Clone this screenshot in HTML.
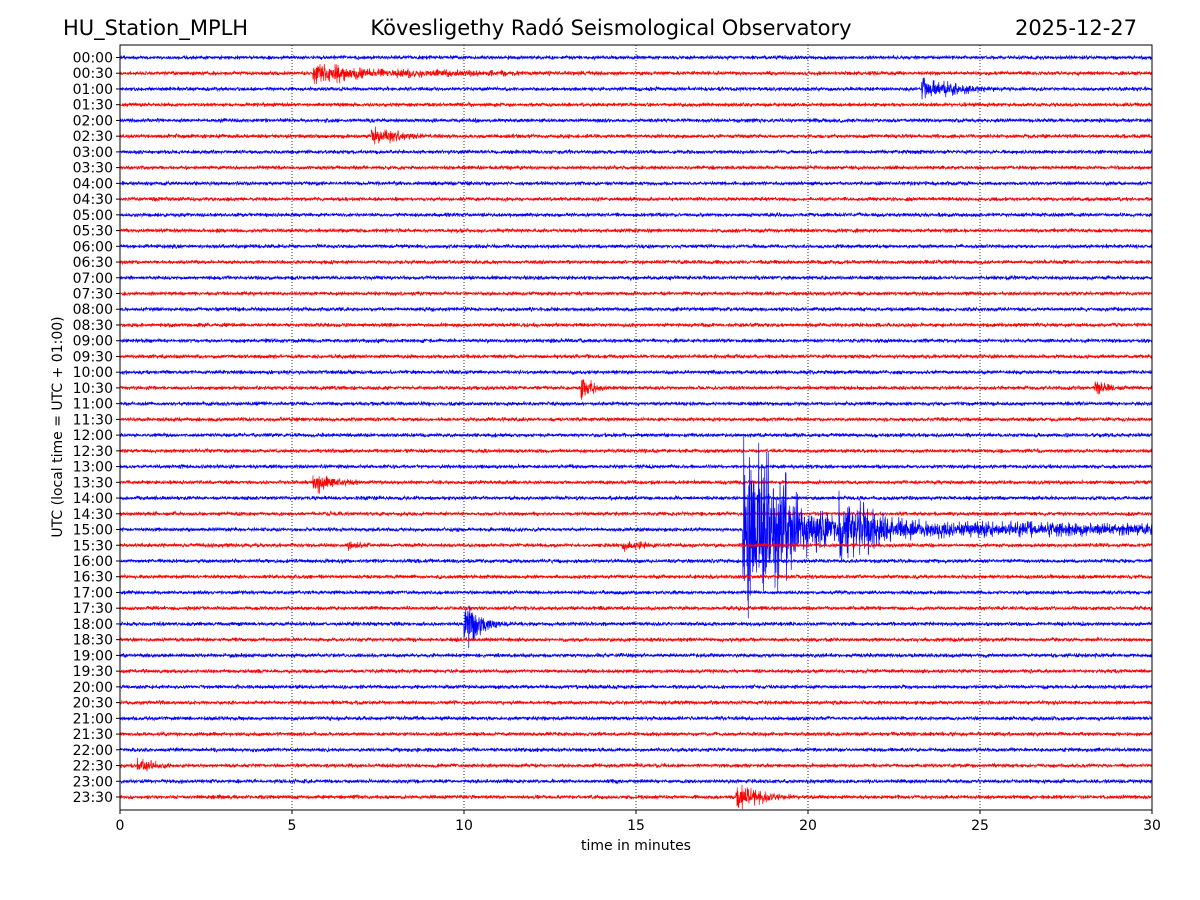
<!DOCTYPE html>
<html><head><meta charset="utf-8">
<style>
body{margin:0;background:#fff;}
svg{display:block;font-family:"DejaVu Sans","Liberation Sans",sans-serif;}
</style></head>
<body>
<svg id="chart" width="1200" height="900" viewBox="0 0 1200 900" xmlns="http://www.w3.org/2000/svg">
<rect width="1200" height="900" fill="#fff"/>
<text x="63" y="35" font-size="21">HU_Station_MPLH</text>
<text x="611" y="35" font-size="21" text-anchor="middle">Kövesligethy Radó Seismological Observatory</text>
<text x="1137" y="35" font-size="21" text-anchor="end">2025-12-27</text>
<g id="grid"></g>
<g id="traces"></g>
<rect x="120" y="45" width="1032" height="765" fill="none" stroke="#000" stroke-width="1"/>
<g id="xaxis"></g>
<g id="yaxis"></g>
<text x="636" y="850" font-size="14" text-anchor="middle">time in minutes</text>
<text transform="translate(62,427) rotate(-90)" font-size="14" text-anchor="middle">UTC (local time = UTC + 01:00)</text>
</svg>
<script>
const xTicks = [0,5,10,15,20,25,30];
const rowLabels = [];
for (let h=0;h<24;h++){const hh=String(h).padStart(2,'0');rowLabels.push(hh+':00');rowLabels.push(hh+':30');}
// events: row index, start minute, active duration (min), amplitude (px)
const eventRows = [1, 1, 2, 5, 21, 21, 27, 30, 30, 30, 31, 31, 36, 45, 47];
const eventStarts = [5.6, 6.2, 23.3, 7.3, 13.4, 28.3, 5.6, 18.1, 19.2, 20.9, 14.6, 6.6, 10.0, 0.5, 17.9];
const eventDurations = [0.8, 4.0, 1.2, 0.8, 0.3, 0.4, 0.6, 1.3, 11.0, 1.0, 0.6, 0.4, 0.5, 0.5, 0.8];
const eventAmps = [11, 4, 10, 9, 18, 6, 12, 115, 10, 28, 5, 4, 30, 8, 12];

const NS='http://www.w3.org/2000/svg';
const X0=120,X1=1152,Y0=45,Y1=810;
const xs=m=>X0+(X1-X0)*m/30;
const rowY=i=>57.5+i*(797-57.5)/47;
function mk(tag,attrs,parent){const e=document.createElementNS(NS,tag);for(const k in attrs)e.setAttribute(k,attrs[k]);parent.appendChild(e);return e;}

const grid=document.getElementById('grid'),xa=document.getElementById('xaxis'),ya=document.getElementById('yaxis'),tr=document.getElementById('traces');
xTicks.forEach(t=>{
  const x=xs(t);
  if(t>0&&t<30){const g=mk('line',{x1:x,x2:x,y1:Y0,y2:Y1,stroke:'#000','stroke-width':0.8,'stroke-dasharray':'1,2'},grid);
    
    }
  const tk=mk('line',{x1:x,x2:x,y1:Y1,y2:Y1+4,stroke:'#000'},xa);
  
  
  const tl=mk('text',{x:x,y:Y1+20,'font-size':14,'text-anchor':'middle'},xa);tl.textContent=t;
  
  
});
rowLabels.forEach((l,i)=>{
  const y=rowY(i);
  const tk=mk('line',{x1:X0-4,x2:X0,y1:y,y2:y,stroke:'#000'},ya);
  
  
  const tl=mk('text',{x:X0-7,y:y+5,'font-size':14,'text-anchor':'end'},ya);tl.textContent=l;
  
  
});
// deterministic texture generator for background noise
let s=12345;function rnd(){s=(s*1664525+1013904223)>>>0;return s/4294967296;}
const N=4128;
for(let i=0;i<rowLabels.length;i++){
  const y=rowY(i);const pts=[];
  for(let k=0;k<=N;k++){
    const m=30*k/N;let a=2.2;
    for(let e=0;e<eventRows.length;e++){
      if(eventRows[e]!==i)continue;
      const dt=m-eventStarts[e];
      if(dt>=0){
        const d=eventDurations[e];
        let env=dt<d?1-0.6*dt/d:0.4*Math.exp(-(dt-d)/(d*0.5));
        a+=eventAmps[e]*env;
      }
    }
    const v=(rnd()*2-1)*a*(rnd()<0.7?0.5:1);
    pts.push(xs(m).toFixed(2)+','+(y+v).toFixed(1));
  }
  const p=mk('polyline',{points:pts.join(' '),fill:'none',stroke:i%2===0?'#0000ff':'#ff0000','stroke-width':0.7},tr);
  
  
}
</script>
</body></html>
